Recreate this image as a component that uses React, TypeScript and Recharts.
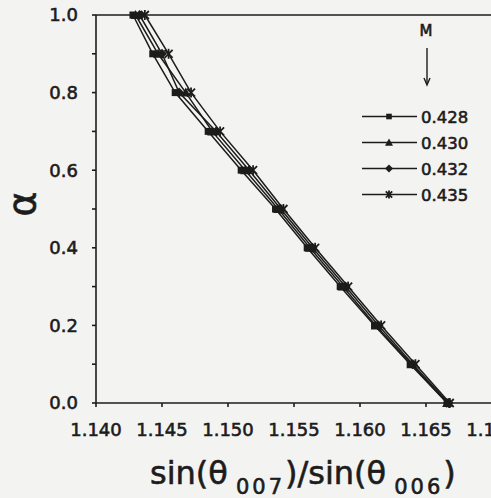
import React from 'react';
import { LineChart, Line, XAxis, YAxis, ReferenceLine } from 'recharts';

// alpha levels and x positions for each M
const ALPHA = [1.0, 0.9, 0.8, 0.7, 0.6, 0.5, 0.4, 0.3, 0.2, 0.1, 0.0];
const X_428 = [1.1428, 1.1443, 1.1460, 1.1485, 1.1510, 1.1536, 1.1560, 1.1585, 1.1611, 1.1638, 1.1666];
const X_430 = [1.1430, 1.1447, 1.1468, 1.1488, 1.1513, 1.1538, 1.1562, 1.1587, 1.1612, 1.1639, 1.1666];
const X_432 = [1.1433, 1.1450, 1.1463, 1.1491, 1.1516, 1.1540, 1.1564, 1.1589, 1.1614, 1.1640, 1.1667];
const X_435 = [1.1437, 1.1455, 1.1472, 1.1494, 1.1519, 1.1542, 1.1566, 1.1591, 1.1616, 1.1642, 1.1668];
const M_LABELS = ['0.428', '0.430', '0.432', '0.435'];
const X_TICKS = [1.14, 1.145, 1.15, 1.155, 1.16, 1.165, 1.17];
const Y_TICKS = [0, 0.1, 0.2, 0.3, 0.4, 0.5, 0.6, 0.7, 0.8, 0.9, 1.0];

const INK = '#1c1c1c';
const FONT = '"DejaVu Sans", sans-serif';
// scanned text looks heavier, so give glyphs a thin outline
const HEAVY = { stroke: INK, strokeWidth: 0.6 };

const toPoints = (xs: number[]) => xs.map((x, i) => ({ x, a: ALPHA[i] }));

type MarkerKind = 'square' | 'triangle' | 'diamond' | 'star';

const drawMarker = (kind: MarkerKind, cx: number, cy: number, key?: string | number, s = 1) => {
  if (kind === 'square') return <rect key={key} x={cx - 3.5 * s} y={cy - 3.5 * s} width={7 * s} height={7 * s} fill={INK} />;
  if (kind === 'triangle')
    return <polygon key={key} points={`${cx},${cy - 5 * s} ${cx - 5 * s},${cy + 4 * s} ${cx + 5 * s},${cy + 4 * s}`} fill={INK} />;
  if (kind === 'diamond')
    return <polygon key={key} points={`${cx},${cy - 5 * s} ${cx + 5 * s},${cy} ${cx},${cy + 5 * s} ${cx - 5 * s},${cy}`} fill={INK} />;
  return (
    <g key={key} stroke={INK} strokeWidth={1.8}>
      <line x1={cx - 4 * s} y1={cy - 4 * s} x2={cx + 4 * s} y2={cy + 4 * s} />
      <line x1={cx - 4 * s} y1={cy + 4 * s} x2={cx + 4 * s} y2={cy - 4 * s} />
      <line x1={cx} y1={cy - 5 * s} x2={cx} y2={cy + 5 * s} />
    </g>
  );
};

const markerDot = (kind: MarkerKind) => (props: any) => drawMarker(kind, props.cx, props.cy, props.key ?? `${kind}-${props.index}`);

const SERIES: { name: string; xs: number[]; kind: MarkerKind }[] = [
  { name: M_LABELS[0], xs: X_428, kind: 'square' },
  { name: M_LABELS[1], xs: X_430, kind: 'triangle' },
  { name: M_LABELS[2], xs: X_432, kind: 'diamond' },
  { name: M_LABELS[3], xs: X_435, kind: 'star' },
];

const XTitle = () => (
  <text x={150} y={484} textAnchor="start" fill={INK} fontFamily={FONT} fontSize={32} {...HEAVY}>
    sin(θ
    <tspan fontSize={21} dx={8} dy={10} letterSpacing={3}>007</tspan>
    <tspan dy={-10}>)/sin(θ</tspan>
    <tspan fontSize={21} dx={8} dy={10} letterSpacing={3}>006</tspan>
    <tspan dy={-10}>)</tspan>
  </text>
);

const Overlay = () => (
  <svg width={491} height={498} style={{ position: 'absolute', left: 0, top: 0, pointerEvents: 'none' }}>
    <text
      x={22}
      y={204}
      transform="rotate(-90 22 204)"
      textAnchor="middle"
      dominantBaseline="central"
      fontFamily={FONT}
      fontSize={38}
      fill={INK}
      {...HEAVY}
    >
      α
    </text>
    <text x={426} y={36} textAnchor="middle" fontFamily={FONT} fontSize={15} fill={INK} {...HEAVY}>M</text>
    <line x1={427} y1={48} x2={427} y2={84} stroke={INK} strokeWidth={1.4} />
    <polyline points="424,78 427,85 430,78" fill="none" stroke={INK} strokeWidth={1.4} />
    {SERIES.map((s, i) => {
      const y = 116.5 + i * 26;
      return (
        <g key={s.name}>
          <line x1={362} y1={y} x2={417} y2={y} stroke={INK} strokeWidth={1.4} />
          {drawMarker(s.kind, 389, y, undefined, 0.8)}
          <text x={421} y={y + 6} fontFamily={FONT} fontSize={16.5} fill={INK} {...HEAVY}>{s.name}</text>
        </g>
      );
    })}
  </svg>
);

export default function App() {
  return (
    <div
      style={{
        position: 'fixed',
        left: 0,
        top: 0,
        width: 491,
        height: 498,
        overflow: 'hidden',
        background: '#f3f3f1',
      }}
    >
      <LineChart width={560} height={498} margin={{ top: 15, right: 68, bottom: 0, left: 0 }}>
        <XAxis
          type="number"
          dataKey="x"
          domain={[1.14, 1.17]}
          ticks={X_TICKS}
          allowDataOverflow
          tickFormatter={(v: number) => v.toFixed(3)}
          tick={{ fill: INK, fontSize: 18, fontFamily: FONT, ...HEAVY }}
          stroke={INK}
          strokeWidth={1.6}
          tickSize={4}
          tickMargin={16}
          height={95}
          label={<XTitle />}
        />
        <YAxis
          type="number"
          dataKey="a"
          domain={[0, 1]}
          ticks={Y_TICKS}
          interval={0}
          tickFormatter={(v: number) => (Math.round(v * 10) % 2 === 0 ? v.toFixed(1) : '')}
          tick={{ fill: INK, fontSize: 18, fontFamily: FONT, ...HEAVY }}
          stroke={INK}
          strokeWidth={1.6}
          tickSize={4}
          tickMargin={14}
          width={96}
        />
        <ReferenceLine y={1} stroke={INK} strokeWidth={1.6} />
        {SERIES.map((s) => (
          <Line
            key={s.name}
            data={toPoints(s.xs)}
            dataKey="a"
            type="linear"
            stroke={INK}
            strokeWidth={1.5}
            dot={markerDot(s.kind)}
            activeDot={false}
            isAnimationActive={false}
          />
        ))}
      </LineChart>
      <Overlay />
    </div>
  );
}
